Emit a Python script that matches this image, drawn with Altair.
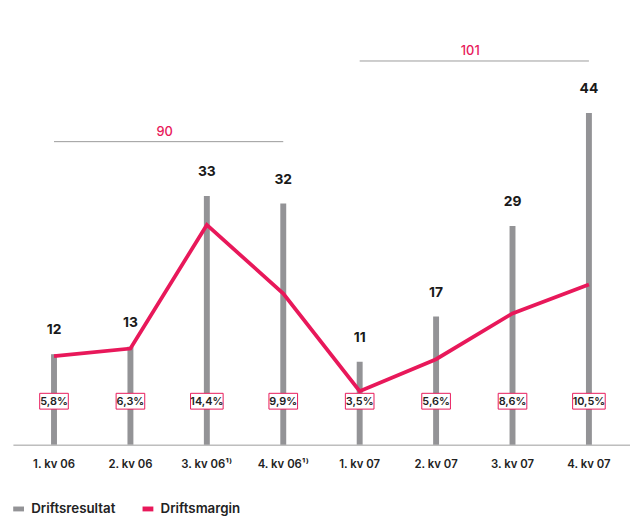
import altair as alt
import pandas as pd

# ---- data ----
quarters = ["1. kv 06", "2. kv 06", "3. kv 06¹⁾", "4. kv 06¹⁾",
            "1. kv 07", "2. kv 07", "3. kv 07", "4. kv 07"]
driftsresultat = [12, 13, 33, 32, 11, 17, 29, 44]
driftsmargin = [5.8, 6.3, 14.4, 9.9, 3.5, 5.6, 8.6, 10.5]
margin_labels = ["5,8%", "6,3%", "14,4%", "9,9%", "3,5%", "5,6%", "8,6%", "10,5%"]

bracket_labels = ["90", "101"]
bracket_start = ["1. kv 06", "1. kv 07"]
bracket_end = ["4. kv 06¹⁾", "4. kv 07"]
bracket_level = [40.2, 50.9]

GRAY = "#939396"
PINK = "#E8185A"
FONT = "Inter"

df = pd.DataFrame({
    "q": quarters,
    "res": driftsresultat,
    "margin": driftsmargin,
    "mlabel": margin_labels,
    "series": ["Driftsresultat"] * len(quarters),
})
df["boxw"] = df["mlabel"].str.len() * 4 + 13

br = pd.DataFrame({
    "label": bracket_labels,
    "start": bracket_start,
    "end": bracket_end,
    "level": bracket_level,
})

W, H = 625, 439
xscale = alt.Scale(domain=quarters, paddingInner=0, paddingOuter=0.0375)
x = alt.X("q:N", sort=quarters, scale=xscale,
          axis=alt.Axis(title=None, labelAngle=0, ticks=False, domainColor="#9a9a9a",
                        domainWidth=1, labelFont=FONT, labelFontSize=11.5,
                        labelFontWeight=600, labelColor="#222222", labelPadding=14,
                        grid=False))
yres = alt.Scale(domain=[0, 57.5])
ymar = alt.Scale(domain=[0, 28.4])

bars = alt.Chart(df).mark_bar(size=6).encode(
    x=x,
    y=alt.Y("res:Q", scale=yres, axis=None),
    color=alt.Color("series:N",
                    scale=alt.Scale(domain=["Driftsresultat", "Driftsmargin"], range=[GRAY, PINK]),
                    legend=alt.Legend(title=None, orient="none", legendX=-1, legendY=497,
                                      direction="horizontal",
                                      symbolType="M-1,-0.45H1V0.45H-1Z", symbolSize=120,
                                      symbolStrokeWidth=0, labelFont=FONT, labelFontSize=13.5,
                                      labelFontWeight=600, labelColor="#222222",
                                      columnPadding=26, labelOffset=6, padding=0)),
)

bar_labels = alt.Chart(df).mark_text(dy=-24, font=FONT, fontSize=14, fontWeight=700,
                                     color="#1a1a1a", baseline="middle").encode(
    x=alt.X("q:N", sort=quarters, scale=xscale),
    y=alt.Y("res:Q", scale=yres, axis=None),
    text="res:Q",
)

rules = alt.Chart(br).mark_rule(color="#9a9a9a", strokeWidth=1).encode(
    x=alt.X("start:N", sort=quarters, scale=xscale),
    x2="end:N",
    y=alt.Y("level:Q", scale=yres, axis=None),
)
rule_text = alt.Chart(br).mark_text(
    dy=-10, dx=112, font=FONT, fontSize=13, fontWeight=500, color=PINK, baseline="middle"
).encode(
    x=alt.X("start:N", sort=quarters, scale=xscale),
    y=alt.Y("level:Q", scale=yres, axis=None),
    text="label:N",
)

left = alt.layer(bars, bar_labels, rules, rule_text)

line = alt.Chart(df).mark_line(color=PINK, strokeWidth=3.8, strokeJoin="miter").encode(
    x=alt.X("q:N", sort=quarters, scale=xscale),
    y=alt.Y("margin:Q", scale=ymar, axis=None),
)

boxes = alt.Chart(df).mark_bar(fill="white", stroke=PINK, strokeWidth=1).encode(
    x=alt.X("q:N", sort=quarters, scale=xscale),
    y=alt.value(387),
    y2=alt.value(403),
    size=alt.Size("boxw:Q", scale=None, legend=None),
)
box_text = alt.Chart(df).mark_text(font=FONT, fontSize=11, fontWeight=600,
                                   color="#222222", baseline="middle").encode(
    x=alt.X("q:N", sort=quarters, scale=xscale),
    y=alt.value(395.5),
    text="mlabel:N",
)

chart = alt.layer(left, line, boxes, box_text).resolve_scale(y="independent").properties(
    width=W, height=H,
    autosize=alt.AutoSizeParams(type="none"),
    padding={"left": 5, "top": 0, "right": 0, "bottom": 71},
).configure_view(stroke=None)

chart.save("out.html", embed_options={"renderer": "svg", "actions": False})
